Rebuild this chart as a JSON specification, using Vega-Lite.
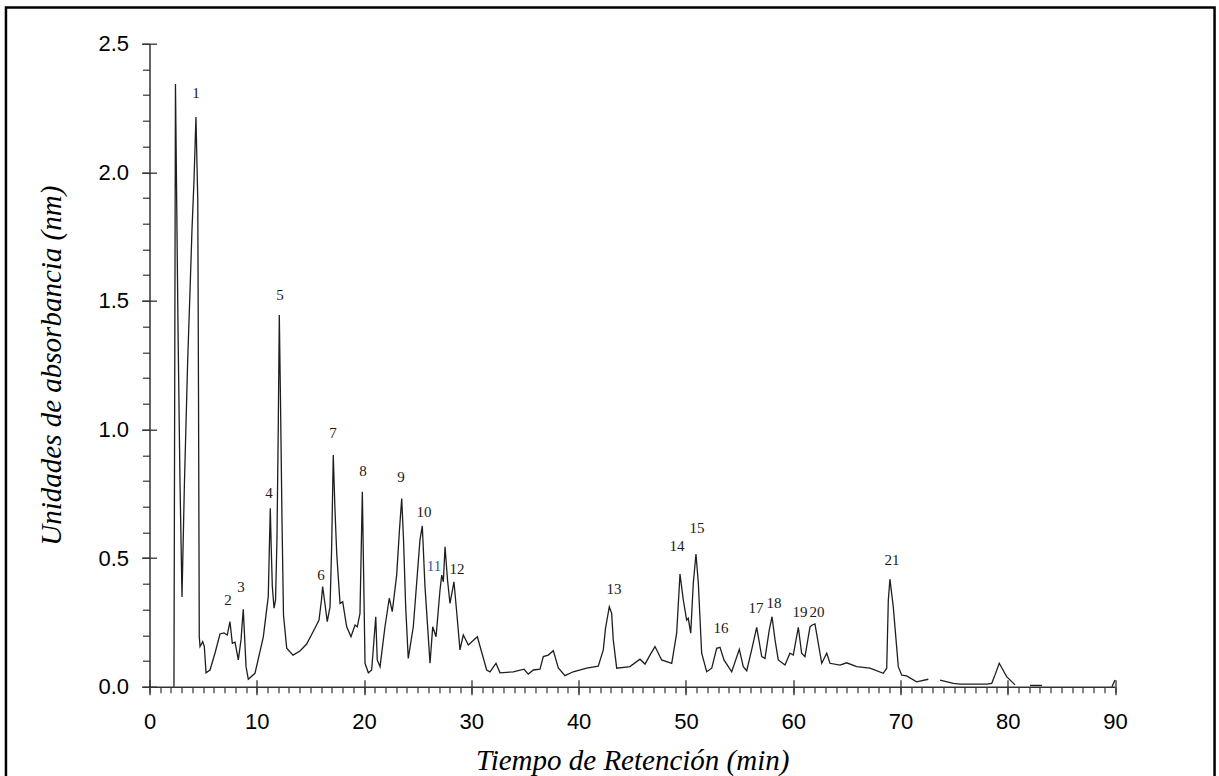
{
  "$schema": "https://vega.github.io/schema/vega-lite/v6.json",
  "width": 965.5,
  "height": 643,
  "autosize": {"type": "none"},
  "padding": {"left": 149.5, "top": 43.7, "right": 104, "bottom": 89.3},
  "background": "white",
  "config": {"view": {"stroke": null}, "axis": {"grid": false, "labelFlush": false, "labelOverlap": false}},
  "datasets": {
    "curve": [
      {"t": 2.28, "a": 0, "seg": 1}, {"t": 2.42, "a": 2.343, "seg": 1}, {"t": 2.66, "a": 1.387, "seg": 1}, {"t": 2.84, "a": 0.804, "seg": 1},
      {"t": 3.03, "a": 0.349, "seg": 1}, {"t": 3.25, "a": 0.78, "seg": 1}, {"t": 3.56, "a": 1.27, "seg": 1}, {"t": 3.78, "a": 1.542, "seg": 1},
      {"t": 3.96, "a": 1.776, "seg": 1}, {"t": 4.15, "a": 1.97, "seg": 1}, {"t": 4.33, "a": 2.215, "seg": 1}, {"t": 4.5, "a": 1.892, "seg": 1},
      {"t": 4.57, "a": 1.115, "seg": 1}, {"t": 4.64, "a": 0.193, "seg": 1}, {"t": 4.71, "a": 0.156, "seg": 1}, {"t": 4.96, "a": 0.175, "seg": 1},
      {"t": 5.11, "a": 0.156, "seg": 1}, {"t": 5.27, "a": 0.054, "seg": 1}, {"t": 5.64, "a": 0.065, "seg": 1}, {"t": 6.11, "a": 0.131, "seg": 1},
      {"t": 6.57, "a": 0.205, "seg": 1}, {"t": 6.94, "a": 0.209, "seg": 1}, {"t": 7.25, "a": 0.201, "seg": 1}, {"t": 7.5, "a": 0.253, "seg": 1},
      {"t": 7.72, "a": 0.169, "seg": 1}, {"t": 7.97, "a": 0.173, "seg": 1}, {"t": 8.28, "a": 0.104, "seg": 1}, {"t": 8.53, "a": 0.182, "seg": 1},
      {"t": 8.74, "a": 0.301, "seg": 1}, {"t": 9.0, "a": 0.078, "seg": 1}, {"t": 9.21, "a": 0.029, "seg": 1}, {"t": 9.83, "a": 0.052, "seg": 1},
      {"t": 10.61, "a": 0.194, "seg": 1}, {"t": 10.86, "a": 0.279, "seg": 1}, {"t": 11.07, "a": 0.35, "seg": 1}, {"t": 11.19, "a": 0.57, "seg": 1},
      {"t": 11.26, "a": 0.694, "seg": 1}, {"t": 11.34, "a": 0.551, "seg": 1}, {"t": 11.45, "a": 0.389, "seg": 1}, {"t": 11.61, "a": 0.305, "seg": 1},
      {"t": 11.75, "a": 0.337, "seg": 1}, {"t": 11.88, "a": 0.57, "seg": 1}, {"t": 12.0, "a": 0.998, "seg": 1}, {"t": 12.1, "a": 1.445, "seg": 1},
      {"t": 12.21, "a": 1.115, "seg": 1}, {"t": 12.35, "a": 0.648, "seg": 1}, {"t": 12.49, "a": 0.279, "seg": 1}, {"t": 12.79, "a": 0.15, "seg": 1},
      {"t": 13.38, "a": 0.123, "seg": 1}, {"t": 14.03, "a": 0.139, "seg": 1}, {"t": 14.65, "a": 0.166, "seg": 1}, {"t": 15.43, "a": 0.228, "seg": 1},
      {"t": 15.8, "a": 0.259, "seg": 1}, {"t": 16.03, "a": 0.337, "seg": 1}, {"t": 16.14, "a": 0.389, "seg": 1}, {"t": 16.31, "a": 0.337, "seg": 1},
      {"t": 16.57, "a": 0.253, "seg": 1}, {"t": 16.83, "a": 0.311, "seg": 1}, {"t": 16.98, "a": 0.544, "seg": 1}, {"t": 17.13, "a": 0.901, "seg": 1},
      {"t": 17.29, "a": 0.687, "seg": 1}, {"t": 17.45, "a": 0.519, "seg": 1}, {"t": 17.76, "a": 0.324, "seg": 1}, {"t": 18.01, "a": 0.33, "seg": 1},
      {"t": 18.38, "a": 0.233, "seg": 1}, {"t": 18.78, "a": 0.194, "seg": 1}, {"t": 19.16, "a": 0.24, "seg": 1}, {"t": 19.37, "a": 0.233, "seg": 1},
      {"t": 19.62, "a": 0.285, "seg": 1}, {"t": 19.84, "a": 0.758, "seg": 1}, {"t": 20.09, "a": 0.091, "seg": 1}, {"t": 20.4, "a": 0.054, "seg": 1},
      {"t": 20.71, "a": 0.065, "seg": 1}, {"t": 21.09, "a": 0.272, "seg": 1}, {"t": 21.23, "a": 0.104, "seg": 1}, {"t": 21.49, "a": 0.078, "seg": 1},
      {"t": 21.95, "a": 0.233, "seg": 1}, {"t": 22.35, "a": 0.344, "seg": 1}, {"t": 22.63, "a": 0.292, "seg": 1}, {"t": 23.04, "a": 0.434, "seg": 1},
      {"t": 23.3, "a": 0.609, "seg": 1}, {"t": 23.51, "a": 0.732, "seg": 1}, {"t": 23.68, "a": 0.57, "seg": 1}, {"t": 23.88, "a": 0.311, "seg": 1},
      {"t": 24.12, "a": 0.11, "seg": 1}, {"t": 24.59, "a": 0.233, "seg": 1}, {"t": 25.21, "a": 0.57, "seg": 1}, {"t": 25.43, "a": 0.625, "seg": 1},
      {"t": 25.68, "a": 0.389, "seg": 1}, {"t": 26.15, "a": 0.091, "seg": 1}, {"t": 26.4, "a": 0.233, "seg": 1}, {"t": 26.71, "a": 0.194, "seg": 1},
      {"t": 27.08, "a": 0.376, "seg": 1}, {"t": 27.24, "a": 0.434, "seg": 1}, {"t": 27.39, "a": 0.408, "seg": 1}, {"t": 27.55, "a": 0.544, "seg": 1},
      {"t": 27.78, "a": 0.415, "seg": 1}, {"t": 28.01, "a": 0.324, "seg": 1}, {"t": 28.38, "a": 0.408, "seg": 1}, {"t": 28.66, "a": 0.279, "seg": 1},
      {"t": 28.94, "a": 0.143, "seg": 1}, {"t": 29.25, "a": 0.201, "seg": 1}, {"t": 29.72, "a": 0.162, "seg": 1}, {"t": 30.56, "a": 0.194, "seg": 1},
      {"t": 31.43, "a": 0.065, "seg": 1}, {"t": 31.74, "a": 0.058, "seg": 1}, {"t": 32.3, "a": 0.091, "seg": 1}, {"t": 32.67, "a": 0.054, "seg": 1},
      {"t": 33.91, "a": 0.058, "seg": 1}, {"t": 34.91, "a": 0.068, "seg": 1}, {"t": 35.31, "a": 0.049, "seg": 1}, {"t": 35.78, "a": 0.065, "seg": 1},
      {"t": 36.4, "a": 0.068, "seg": 1}, {"t": 36.71, "a": 0.117, "seg": 1}, {"t": 37.17, "a": 0.123, "seg": 1}, {"t": 37.64, "a": 0.14, "seg": 1},
      {"t": 38.11, "a": 0.073, "seg": 1}, {"t": 38.73, "a": 0.043, "seg": 1}, {"t": 39.5, "a": 0.058, "seg": 1}, {"t": 40.75, "a": 0.072, "seg": 1},
      {"t": 41.83, "a": 0.08, "seg": 1}, {"t": 42.3, "a": 0.143, "seg": 1}, {"t": 42.51, "a": 0.228, "seg": 1}, {"t": 42.86, "a": 0.311, "seg": 1},
      {"t": 43.08, "a": 0.285, "seg": 1}, {"t": 43.23, "a": 0.182, "seg": 1}, {"t": 43.55, "a": 0.072, "seg": 1}, {"t": 44.79, "a": 0.078, "seg": 1},
      {"t": 45.72, "a": 0.107, "seg": 1}, {"t": 46.19, "a": 0.088, "seg": 1}, {"t": 46.65, "a": 0.123, "seg": 1}, {"t": 47.12, "a": 0.156, "seg": 1},
      {"t": 47.74, "a": 0.104, "seg": 1}, {"t": 48.68, "a": 0.091, "seg": 1}, {"t": 49.14, "a": 0.208, "seg": 1}, {"t": 49.45, "a": 0.438, "seg": 1},
      {"t": 49.76, "a": 0.337, "seg": 1}, {"t": 50.07, "a": 0.259, "seg": 1}, {"t": 50.22, "a": 0.266, "seg": 1}, {"t": 50.45, "a": 0.208, "seg": 1},
      {"t": 50.69, "a": 0.402, "seg": 1}, {"t": 50.94, "a": 0.516, "seg": 1}, {"t": 51.16, "a": 0.402, "seg": 1}, {"t": 51.47, "a": 0.13, "seg": 1},
      {"t": 51.94, "a": 0.058, "seg": 1}, {"t": 52.41, "a": 0.072, "seg": 1}, {"t": 52.87, "a": 0.149, "seg": 1}, {"t": 53.18, "a": 0.153, "seg": 1},
      {"t": 53.55, "a": 0.104, "seg": 1}, {"t": 54.27, "a": 0.058, "seg": 1}, {"t": 54.98, "a": 0.145, "seg": 1}, {"t": 55.35, "a": 0.078, "seg": 1},
      {"t": 55.67, "a": 0.062, "seg": 1}, {"t": 56.13, "a": 0.143, "seg": 1}, {"t": 56.6, "a": 0.231, "seg": 1}, {"t": 57.07, "a": 0.117, "seg": 1},
      {"t": 57.37, "a": 0.11, "seg": 1}, {"t": 57.77, "a": 0.22, "seg": 1}, {"t": 58.03, "a": 0.272, "seg": 1}, {"t": 58.31, "a": 0.182, "seg": 1},
      {"t": 58.61, "a": 0.104, "seg": 1}, {"t": 59.24, "a": 0.084, "seg": 1}, {"t": 59.7, "a": 0.13, "seg": 1}, {"t": 60.01, "a": 0.123, "seg": 1},
      {"t": 60.48, "a": 0.231, "seg": 1}, {"t": 60.79, "a": 0.13, "seg": 1}, {"t": 61.1, "a": 0.117, "seg": 1}, {"t": 61.57, "a": 0.233, "seg": 1},
      {"t": 61.78, "a": 0.24, "seg": 1}, {"t": 62.03, "a": 0.244, "seg": 1}, {"t": 62.34, "a": 0.169, "seg": 1}, {"t": 62.66, "a": 0.091, "seg": 1},
      {"t": 63.13, "a": 0.13, "seg": 1}, {"t": 63.43, "a": 0.091, "seg": 1}, {"t": 64.36, "a": 0.084, "seg": 1}, {"t": 64.99, "a": 0.093, "seg": 1},
      {"t": 65.92, "a": 0.078, "seg": 1}, {"t": 67.16, "a": 0.072, "seg": 1}, {"t": 68.4, "a": 0.052, "seg": 1}, {"t": 68.72, "a": 0.072, "seg": 1},
      {"t": 68.87, "a": 0.337, "seg": 1}, {"t": 69.02, "a": 0.418, "seg": 1}, {"t": 69.33, "a": 0.311, "seg": 1}, {"t": 69.8, "a": 0.078, "seg": 1},
      {"t": 70.12, "a": 0.045, "seg": 1}, {"t": 70.58, "a": 0.042, "seg": 1}, {"t": 71.51, "a": 0.019, "seg": 1}, {"t": 72.6, "a": 0.029, "seg": 1},
      {"t": 73.69, "a": 0.026, "seg": 2}, {"t": 74.93, "a": 0.013, "seg": 2}, {"t": 75.55, "a": 0.01, "seg": 2}, {"t": 78.04, "a": 0.01, "seg": 2},
      {"t": 78.51, "a": 0.013, "seg": 2}, {"t": 78.81, "a": 0.045, "seg": 2}, {"t": 79.21, "a": 0.091, "seg": 2}, {"t": 79.56, "a": 0.065, "seg": 2},
      {"t": 79.9, "a": 0.039, "seg": 2}, {"t": 80.68, "a": 0.007, "seg": 2},
      {"t": 82.08, "a": 0.005, "seg": 3}, {"t": 83.19, "a": 0.005, "seg": 3},
      {"t": 89.72, "a": 0, "seg": 4}, {"t": 90.0, "a": 0.026, "seg": 4}
    ],
    "peaks": [
      {"label": "1", "t": 4.33, "a": 2.308}, {"label": "2", "t": 7.32, "a": 0.337}, {"label": "3", "t": 8.53, "a": 0.388},
      {"label": "4", "t": 11.14, "a": 0.753}, {"label": "5", "t": 12.16, "a": 1.523}, {"label": "6", "t": 15.99, "a": 0.435},
      {"label": "7", "t": 17.1, "a": 0.986}, {"label": "8", "t": 19.9, "a": 0.839}, {"label": "9", "t": 23.44, "a": 0.816},
      {"label": "10", "t": 25.59, "a": 0.68}, {"label": "11", "t": 26.52, "a": 0.47}, {"label": "12", "t": 28.66, "a": 0.458},
      {"label": "13", "t": 43.29, "a": 0.38}, {"label": "14", "t": 49.17, "a": 0.547}, {"label": "15", "t": 51.03, "a": 0.617},
      {"label": "16", "t": 53.27, "a": 0.228}, {"label": "17", "t": 56.54, "a": 0.306}, {"label": "18", "t": 58.21, "a": 0.325},
      {"label": "19", "t": 60.63, "a": 0.291}, {"label": "20", "t": 62.21, "a": 0.291}, {"label": "21", "t": 69.21, "a": 0.493}
    ]
  },
  "resolve": {"axis": {"x": "independent", "y": "independent"}},
  "layer": [
    {
      "data": {"values": [{}]},
      "mark": {"type": "rect", "filled": false, "stroke": "#000000", "strokeWidth": 2.5},
      "encoding": {
        "x": {"datum": -13.38, "type": "quantitative", "scale": {"domain": [0, 90], "nice": false, "zero": false},
          "axis": {"orient": "bottom", "values": [0,1,2,3,4,5,6,7,8,9,10,11,12,13,14,15,16,17,18,19,20,21,22,23,24,25,26,27,28,29,30,31,32,33,34,35,36,37,38,39,40,41,42,43,44,45,46,47,48,49,50,51,52,53,54,55,56,57,58,59,60,61,62,63,64,65,66,67,68,69,70,71,72,73,74,75,76,77,78,79,80,81,82,83,84,85,86,87,88,89,90],
            "tickSize": 6, "tickColor": "#333333", "tickWidth": 1.2, "labels": false, "domain": false, "title": null}},
        "x2": {"datum": 99.28},
        "y": {"datum": 2.641, "type": "quantitative", "scale": {"domain": [0, 2.5], "nice": false, "zero": false},
          "axis": {"orient": "left", "values": [0,0.1,0.2,0.3,0.4,0.5,0.6,0.7,0.8,0.9,1.0,1.1,1.2,1.3,1.4,1.5,1.6,1.7,1.8,1.9,2.0,2.1,2.2,2.3,2.4,2.5],
            "tickSize": 7, "tickColor": "#333333", "tickWidth": 1.2, "labels": false, "domain": false, "title": null}},
        "y2": {"datum": -0.5}
      }
    },
    {
      "data": {"name": "curve"},
      "mark": {"type": "line", "color": "#1e1e1e", "strokeWidth": 1.3},
      "encoding": {
        "x": {"field": "t", "type": "quantitative", "scale": {"domain": [0, 90], "nice": false, "zero": false},
          "axis": {"orient": "bottom", "values": [0,10,20,30,40,50,60,70,80,90], "tickSize": 8, "tickColor": "#333333", "tickWidth": 1.3,
            "domain": true, "domainColor": "#333333", "domainWidth": 1.5,
            "labelFont": "Liberation Sans", "labelFontSize": 22, "labelColor": "#000000", "labelPadding": 17, "labelAlign": "center",
            "title": "Tiempo de Retención (min)", "titleFont": "Liberation Serif", "titleFontStyle": "italic", "titleFontWeight": "normal",
            "titleFontSize": 29, "titleColor": "#000000", "titlePadding": 14}},
        "y": {"field": "a", "type": "quantitative", "scale": {"domain": [0, 2.5], "nice": false, "zero": false},
          "axis": {"orient": "left", "values": [0,0.5,1.0,1.5,2.0,2.5], "format": ".1f", "tickSize": 8, "tickColor": "#333333", "tickWidth": 1.3,
            "domain": true, "domainColor": "#333333", "domainWidth": 1.5,
            "labelFont": "Liberation Sans", "labelFontSize": 22, "labelColor": "#000000", "labelPadding": 13,
            "title": "Unidades de absorbancia (nm)", "titleFont": "Liberation Serif", "titleFontStyle": "italic", "titleFontWeight": "normal",
            "titleFontSize": 29, "titleColor": "#000000", "titlePadding": 31}},
        "detail": {"field": "seg", "type": "nominal"}
      }
    },
    {
      "data": {"name": "peaks"},
      "mark": {"type": "text", "font": "Liberation Serif", "fontSize": 15, "align": "center", "baseline": "middle"},
      "encoding": {
        "x": {"field": "t", "type": "quantitative", "scale": {"domain": [0, 90], "nice": false, "zero": false},
          "axis": {"orient": "bottom", "values": [0,10,20,30,40,50,60,70,80,90], "tickSize": -7, "tickColor": "#333333", "tickWidth": 1.3,
            "labels": false, "domain": false, "title": null}},
        "y": {"field": "a", "type": "quantitative", "scale": {"domain": [0, 2.5], "nice": false, "zero": false},
          "axis": {"orient": "left", "values": [0,0.5,1.0,1.5,2.0,2.5], "tickSize": -7, "tickColor": "#333333", "tickWidth": 1.3,
            "labels": false, "domain": false, "title": null}},
        "text": {"field": "label", "type": "nominal"},
        "color": {"condition": {"test": "datum.label === '11'", "value": "#2a5caa"}, "value": "#1a1a1a"}
      }
    }
  ]
}
